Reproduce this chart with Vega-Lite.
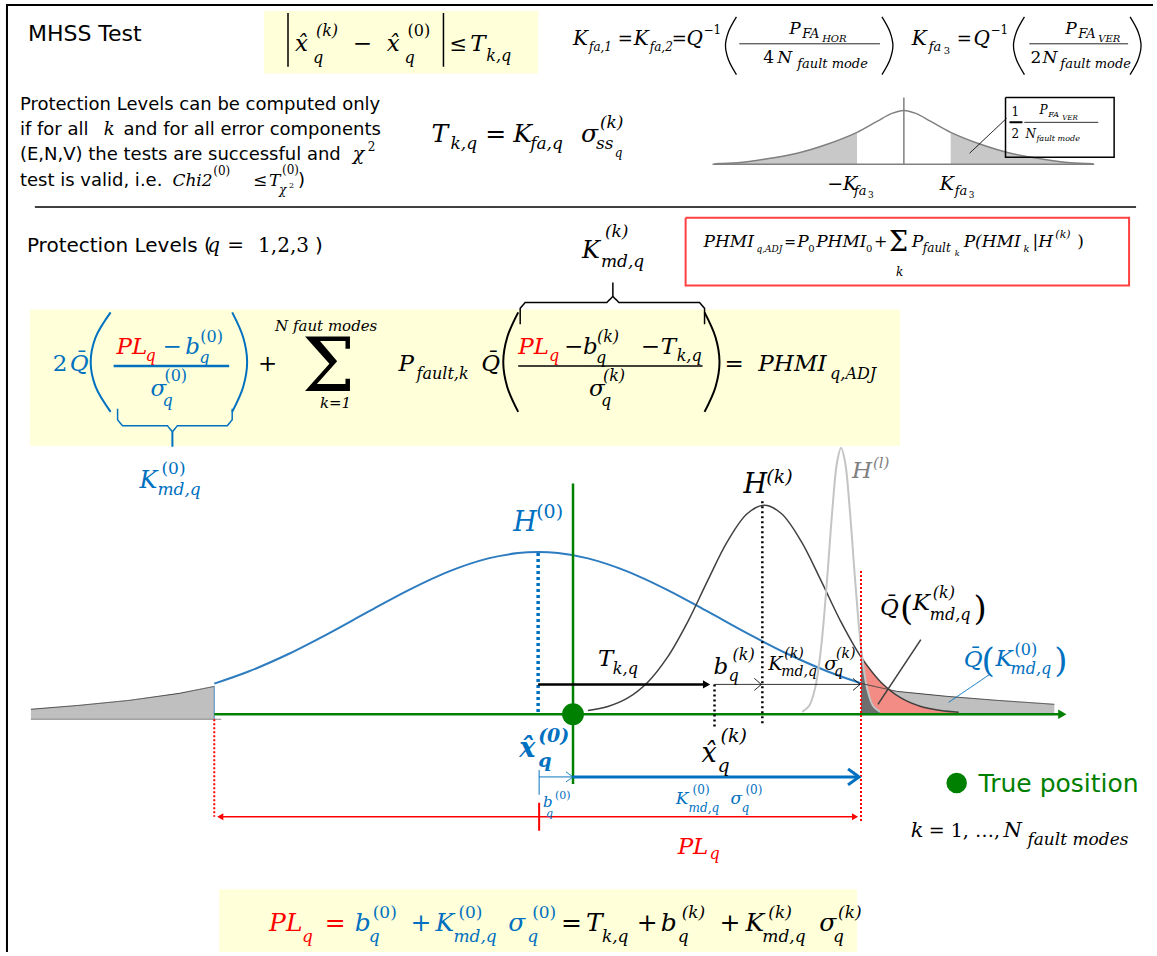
{
"$schema":"https://vega.github.io/schema/vega-lite/v6.json",
"width":1157,"height":956,
"autosize":{"type":"fit","contains":"padding"},
"padding":0,
"background":"white",
"config":{"view":{"stroke":null},"legend":{"disable":true}},
"datasets":{
"rc":[{"x":265,"x2":540,"y":10,"y2":73,"ink":"yl"},{"x":30,"x2":903,"y":310,"y2":447,"ink":"yl"},{"x":220,"x2":860,"y":893,"y2":956,"ink":"yl"}],
"ar":[
{"id":"a","x":31,"y":712,"yb":722,"ink":"ga"},{"id":"a","x":80,"y":708,"yb":722,"ink":"ga"},{"id":"a","x":130,"y":703,"yb":722,"ink":"ga"},{"id":"a","x":180,"y":696,"yb":722,"ink":"ga"},{"id":"a","x":215,"y":689,"yb":722,"ink":"ga"},
{"id":"b","x":864,"y":686,"yb":718,"ink":"ga"},{"id":"b","x":900,"y":694,"yb":718,"ink":"ga"},{"id":"b","x":950,"y":699,"yb":718,"ink":"ga"},{"id":"b","x":1000,"y":703,"yb":718,"ink":"ga"},{"id":"b","x":1058,"y":707,"yb":718,"ink":"ga"},
{"id":"c","x":864,"y":659.4,"yb":717,"ink":"ra"},{"id":"c","x":884,"y":684.8,"yb":717,"ink":"ra"},{"id":"c","x":904,"y":700.6,"yb":717,"ink":"ra"},{"id":"c","x":924,"y":709.2,"yb":717,"ink":"ra"},{"id":"c","x":944,"y":713.3,"yb":717,"ink":"ra"},{"id":"c","x":962,"y":715,"yb":717,"ink":"ra"},
{"id":"d","x":864,"y":649.4,"yb":717,"ink":"da"},{"id":"d","x":870,"y":690.5,"yb":717,"ink":"da"},{"id":"d","x":876,"y":708.4,"yb":717,"ink":"da"},{"id":"d","x":883,"y":714.6,"yb":717,"ink":"da"},
{"id":"e","x":717,"y":163.5,"yb":164,"ink":"ms"},{"id":"e","x":740,"y":162.5,"yb":164,"ink":"ms"},{"id":"e","x":767,"y":159,"yb":164,"ink":"ms"},{"id":"e","x":800,"y":153,"yb":164,"ink":"ms"},{"id":"e","x":830,"y":144,"yb":164,"ink":"ms"},{"id":"e","x":860,"y":132,"yb":164,"ink":"ms"},
{"id":"f","x":954,"y":132,"yb":164,"ink":"ms"},{"id":"f","x":984,"y":144,"yb":164,"ink":"ms"},{"id":"f","x":1014,"y":153,"yb":164,"ink":"ms"},{"id":"f","x":1047,"y":159,"yb":164,"ink":"ms"},{"id":"f","x":1074,"y":162.5,"yb":164,"ink":"ms"},{"id":"f","x":1097,"y":163.5,"yb":164,"ink":"ms"}
],
"crv":[
{"id":"h0","o":1,"x":215,"y":686.2,"ink":"cb","sw":2},{"id":"h0","o":2,"x":250,"y":673.8,"ink":"cb","sw":2},{"id":"h0","o":3,"x":290,"y":656.2,"ink":"cb","sw":2},{"id":"h0","o":4,"x":330,"y":635.7,"ink":"cb","sw":2},{"id":"h0","o":5,"x":370,"y":613.7,"ink":"cb","sw":2},{"id":"h0","o":6,"x":410,"y":592.2,"ink":"cb","sw":2},{"id":"h0","o":7,"x":450,"y":573.6,"ink":"cb","sw":2},{"id":"h0","o":8,"x":490,"y":560.3,"ink":"cb","sw":2},{"id":"h0","o":9,"x":520,"y":555,"ink":"cb","sw":2},{"id":"h0","o":10,"x":540,"y":554,"ink":"cb","sw":2},{"id":"h0","o":11,"x":560,"y":555,"ink":"cb","sw":2},{"id":"h0","o":12,"x":590,"y":560.3,"ink":"cb","sw":2},{"id":"h0","o":13,"x":630,"y":573.6,"ink":"cb","sw":2},{"id":"h0","o":14,"x":670,"y":592.2,"ink":"cb","sw":2},{"id":"h0","o":15,"x":710,"y":613.7,"ink":"cb","sw":2},{"id":"h0","o":16,"x":750,"y":635.7,"ink":"cb","sw":2},{"id":"h0","o":17,"x":790,"y":656.2,"ink":"cb","sw":2},{"id":"h0","o":18,"x":830,"y":673.8,"ink":"cb","sw":2},{"id":"h0","o":19,"x":864,"y":685.9,"ink":"cb","sw":2},
{"id":"hk","o":1,"x":590,"y":713.3,"ink":"dk","sw":1.5},{"id":"hk","o":2,"x":610,"y":709.2,"ink":"dk","sw":1.5},{"id":"hk","o":3,"x":630,"y":700.6,"ink":"dk","sw":1.5},{"id":"hk","o":4,"x":650,"y":684.8,"ink":"dk","sw":1.5},{"id":"hk","o":5,"x":670,"y":659.4,"ink":"dk","sw":1.5},{"id":"hk","o":6,"x":690,"y":624.3,"ink":"dk","sw":1.5},{"id":"hk","o":7,"x":710,"y":582.9,"ink":"dk","sw":1.5},{"id":"hk","o":8,"x":730,"y":543.2,"ink":"dk","sw":1.5},{"id":"hk","o":9,"x":750,"y":515.2,"ink":"dk","sw":1.5},{"id":"hk","o":10,"x":767,"y":507,"ink":"dk","sw":1.5},{"id":"hk","o":11,"x":784,"y":515.2,"ink":"dk","sw":1.5},{"id":"hk","o":12,"x":804,"y":543.2,"ink":"dk","sw":1.5},{"id":"hk","o":13,"x":824,"y":582.9,"ink":"dk","sw":1.5},{"id":"hk","o":14,"x":844,"y":624.3,"ink":"dk","sw":1.5},{"id":"hk","o":15,"x":864,"y":659.4,"ink":"dk","sw":1.5},{"id":"hk","o":16,"x":884,"y":684.8,"ink":"dk","sw":1.5},{"id":"hk","o":17,"x":904,"y":700.6,"ink":"dk","sw":1.5},{"id":"hk","o":18,"x":924,"y":709.2,"ink":"dk","sw":1.5},{"id":"hk","o":19,"x":944,"y":713.3,"ink":"dk","sw":1.5},{"id":"hk","o":20,"x":962,"y":715,"ink":"dk","sw":1.5},
{"id":"hl","o":1,"x":805,"y":714.6,"ink":"lg","sw":2},{"id":"hl","o":2,"x":812,"y":708.4,"ink":"lg","sw":2},{"id":"hl","o":3,"x":818,"y":690.5,"ink":"lg","sw":2},{"id":"hl","o":4,"x":824,"y":649.4,"ink":"lg","sw":2},{"id":"hl","o":5,"x":830,"y":580.9,"ink":"lg","sw":2},{"id":"hl","o":6,"x":835,"y":514.5,"ink":"lg","sw":2},{"id":"hl","o":7,"x":840,"y":463.4,"ink":"lg","sw":2},{"id":"hl","o":8,"x":844,"y":449,"ink":"lg","sw":2},{"id":"hl","o":9,"x":848,"y":463.4,"ink":"lg","sw":2},{"id":"hl","o":10,"x":853,"y":514.5,"ink":"lg","sw":2},{"id":"hl","o":11,"x":858,"y":580.9,"ink":"lg","sw":2},{"id":"hl","o":12,"x":864,"y":649.4,"ink":"lg","sw":2},{"id":"hl","o":13,"x":870,"y":690.5,"ink":"lg","sw":2},{"id":"hl","o":14,"x":876,"y":708.4,"ink":"lg","sw":2},{"id":"hl","o":15,"x":883,"y":714.6,"ink":"lg","sw":2},
{"id":"mg","o":1,"x":717,"y":163.5,"ink":"gr","sw":1.5},{"id":"mg","o":2,"x":740,"y":162.5,"ink":"gr","sw":1.5},{"id":"mg","o":3,"x":767,"y":159,"ink":"gr","sw":1.5},{"id":"mg","o":4,"x":800,"y":153,"ink":"gr","sw":1.5},{"id":"mg","o":5,"x":830,"y":144,"ink":"gr","sw":1.5},{"id":"mg","o":6,"x":860,"y":132,"ink":"gr","sw":1.5},{"id":"mg","o":7,"x":880,"y":121,"ink":"gr","sw":1.5},{"id":"mg","o":8,"x":895,"y":113,"ink":"gr","sw":1.5},{"id":"mg","o":9,"x":907,"y":110,"ink":"gr","sw":1.5},{"id":"mg","o":10,"x":919,"y":113,"ink":"gr","sw":1.5},{"id":"mg","o":11,"x":934,"y":121,"ink":"gr","sw":1.5},{"id":"mg","o":12,"x":954,"y":132,"ink":"gr","sw":1.5},{"id":"mg","o":13,"x":984,"y":144,"ink":"gr","sw":1.5},{"id":"mg","o":14,"x":1014,"y":153,"ink":"gr","sw":1.5},{"id":"mg","o":15,"x":1047,"y":159,"ink":"gr","sw":1.5},{"id":"mg","o":16,"x":1074,"y":162.5,"ink":"gr","sw":1.5},{"id":"mg","o":17,"x":1097,"y":163.5,"ink":"gr","sw":1.5},
{"id":"p1L","o":1,"x":739,"y":16,"ink":"k","sw":1.3},{"id":"p1L","o":2,"x":731,"y":31,"ink":"k","sw":1.3},{"id":"p1L","o":3,"x":728,"y":45,"ink":"k","sw":1.3},{"id":"p1L","o":4,"x":731,"y":59,"ink":"k","sw":1.3},{"id":"p1L","o":5,"x":739,"y":74,"ink":"k","sw":1.3},
{"id":"p1R","o":1,"x":885,"y":16,"ink":"k","sw":1.3},{"id":"p1R","o":2,"x":893,"y":31,"ink":"k","sw":1.3},{"id":"p1R","o":3,"x":896,"y":45,"ink":"k","sw":1.3},{"id":"p1R","o":4,"x":893,"y":59,"ink":"k","sw":1.3},{"id":"p1R","o":5,"x":885,"y":74,"ink":"k","sw":1.3},
{"id":"p2L","o":1,"x":1028,"y":16,"ink":"k","sw":1.3},{"id":"p2L","o":2,"x":1020,"y":31,"ink":"k","sw":1.3},{"id":"p2L","o":3,"x":1017,"y":45,"ink":"k","sw":1.3},{"id":"p2L","o":4,"x":1020,"y":59,"ink":"k","sw":1.3},{"id":"p2L","o":5,"x":1028,"y":74,"ink":"k","sw":1.3},
{"id":"p2R","o":1,"x":1134,"y":16,"ink":"k","sw":1.3},{"id":"p2R","o":2,"x":1142,"y":31,"ink":"k","sw":1.3},{"id":"p2R","o":3,"x":1145,"y":45,"ink":"k","sw":1.3},{"id":"p2R","o":4,"x":1142,"y":59,"ink":"k","sw":1.3},{"id":"p2R","o":5,"x":1134,"y":74,"ink":"k","sw":1.3},
{"id":"pbL","o":1,"x":111,"y":313,"ink":"b","sw":2},{"id":"pbL","o":2,"x":96,"y":338,"ink":"b","sw":2},{"id":"pbL","o":3,"x":91,"y":363,"ink":"b","sw":2},{"id":"pbL","o":4,"x":96,"y":388,"ink":"b","sw":2},{"id":"pbL","o":5,"x":111,"y":413,"ink":"b","sw":2},
{"id":"pbR","o":1,"x":233,"y":313,"ink":"b","sw":2},{"id":"pbR","o":2,"x":244,"y":338,"ink":"b","sw":2},{"id":"pbR","o":3,"x":248,"y":363,"ink":"b","sw":2},{"id":"pbR","o":4,"x":244,"y":388,"ink":"b","sw":2},{"id":"pbR","o":5,"x":233,"y":413,"ink":"b","sw":2},
{"id":"pkL","o":1,"x":520,"y":313,"ink":"k","sw":2},{"id":"pkL","o":2,"x":509,"y":338,"ink":"k","sw":2},{"id":"pkL","o":3,"x":505,"y":363,"ink":"k","sw":2},{"id":"pkL","o":4,"x":509,"y":388,"ink":"k","sw":2},{"id":"pkL","o":5,"x":520,"y":413,"ink":"k","sw":2},
{"id":"pkR","o":1,"x":707,"y":313,"ink":"k","sw":2},{"id":"pkR","o":2,"x":718,"y":338,"ink":"k","sw":2},{"id":"pkR","o":3,"x":722,"y":363,"ink":"k","sw":2},{"id":"pkR","o":4,"x":718,"y":388,"ink":"k","sw":2},{"id":"pkR","o":5,"x":707,"y":413,"ink":"k","sw":2}
],
"seg":[
{"id":"frame","o":1,"x":7,"y":956,"ink":"k","sw":2,"d":"s"},{"id":"frame","o":2,"x":7,"y":4,"ink":"k","sw":2,"d":"s"},{"id":"frame","o":3,"x":1157,"y":4,"ink":"k","sw":2,"d":"s"},
{"id":"sep","o":1,"x":35,"y":207,"ink":"k","sw":1.5,"d":"s"},{"id":"sep","o":2,"x":1140,"y":207,"ink":"k","sw":1.5,"d":"s"},
{"id":"bar1","o":1,"x":289,"y":12,"ink":"k","sw":1.5,"d":"s"},{"id":"bar1","o":2,"x":289,"y":66,"ink":"k","sw":1.5,"d":"s"},
{"id":"bar2","o":1,"x":445,"y":12,"ink":"k","sw":1.5,"d":"s"},{"id":"bar2","o":2,"x":445,"y":66,"ink":"k","sw":1.5,"d":"s"},
{"id":"fr1","o":1,"x":742,"y":43,"ink":"k","sw":1,"d":"s"},{"id":"fr1","o":2,"x":883,"y":43,"ink":"k","sw":1,"d":"s"},
{"id":"fr2","o":1,"x":1033,"y":43,"ink":"k","sw":1,"d":"s"},{"id":"fr2","o":2,"x":1132,"y":43,"ink":"k","sw":1,"d":"s"},
{"id":"max","o":1,"x":715,"y":164,"ink":"gr","sw":1.5,"d":"s"},{"id":"max","o":2,"x":1098,"y":164,"ink":"gr","sw":1.5,"d":"s"},
{"id":"mcv","o":1,"x":907,"y":97,"ink":"gr","sw":1.5,"d":"s"},{"id":"mcv","o":2,"x":907,"y":164,"ink":"gr","sw":1.5,"d":"s"},
{"id":"mld","o":1,"x":973,"y":153,"ink":"k","sw":1,"d":"s"},{"id":"mld","o":2,"x":1010,"y":118,"ink":"k","sw":1,"d":"s"},
{"id":"mbox","o":1,"x":1009,"y":97,"ink":"k","sw":1.5,"d":"s"},{"id":"mbox","o":2,"x":1118,"y":97,"ink":"k","sw":1.5,"d":"s"},{"id":"mbox","o":3,"x":1118,"y":157,"ink":"k","sw":1.5,"d":"s"},{"id":"mbox","o":4,"x":1009,"y":157,"ink":"k","sw":1.5,"d":"s"},{"id":"mbox","o":5,"x":1009,"y":97,"ink":"k","sw":1.5,"d":"s"},
{"id":"mh","o":1,"x":1013,"y":122,"ink":"k","sw":2,"d":"s"},{"id":"mh","o":2,"x":1026,"y":122,"ink":"k","sw":2,"d":"s"},
{"id":"mf","o":1,"x":1028,"y":122,"ink":"k","sw":1,"d":"s"},{"id":"mf","o":2,"x":1102,"y":122,"ink":"k","sw":1,"d":"s"},
{"id":"rbox","o":1,"x":688,"y":218,"ink":"rb","sw":2,"d":"s"},{"id":"rbox","o":2,"x":1133,"y":218,"ink":"rb","sw":2,"d":"s"},{"id":"rbox","o":3,"x":1133,"y":286,"ink":"rb","sw":2,"d":"s"},{"id":"rbox","o":4,"x":688,"y":286,"ink":"rb","sw":2,"d":"s"},{"id":"rbox","o":5,"x":688,"y":218,"ink":"rb","sw":2,"d":"s"},
{"id":"kbr","o":1,"x":522,"y":325,"ink":"k","sw":1.5,"d":"s"},{"id":"kbr","o":2,"x":522,"y":309,"ink":"k","sw":1.5,"d":"s"},{"id":"kbr","o":3,"x":527,"y":303,"ink":"k","sw":1.5,"d":"s"},{"id":"kbr","o":4,"x":609,"y":303,"ink":"k","sw":1.5,"d":"s"},{"id":"kbr","o":5,"x":615,"y":297,"ink":"k","sw":1.5,"d":"s"},{"id":"kbr","o":6,"x":621,"y":303,"ink":"k","sw":1.5,"d":"s"},{"id":"kbr","o":7,"x":702,"y":303,"ink":"k","sw":1.5,"d":"s"},{"id":"kbr","o":8,"x":707,"y":309,"ink":"k","sw":1.5,"d":"s"},{"id":"kbr","o":9,"x":707,"y":325,"ink":"k","sw":1.5,"d":"s"},
{"id":"kbt","o":1,"x":615,"y":283,"ink":"k","sw":1.5,"d":"s"},{"id":"kbt","o":2,"x":615,"y":297,"ink":"k","sw":1.5,"d":"s"},
{"id":"bfl","o":1,"x":114,"y":367,"ink":"b","sw":2.5,"d":"s"},{"id":"bfl","o":2,"x":230,"y":367,"ink":"b","sw":2.5,"d":"s"},
{"id":"kfl","o":1,"x":520,"y":367,"ink":"k","sw":1.5,"d":"s"},{"id":"kfl","o":2,"x":705,"y":367,"ink":"k","sw":1.5,"d":"s"},
{"id":"bbr","o":1,"x":118,"y":410,"ink":"b","sw":1.5,"d":"s"},{"id":"bbr","o":2,"x":118,"y":421,"ink":"b","sw":1.5,"d":"s"},{"id":"bbr","o":3,"x":123,"y":427,"ink":"b","sw":1.5,"d":"s"},{"id":"bbr","o":4,"x":168,"y":427,"ink":"b","sw":1.5,"d":"s"},{"id":"bbr","o":5,"x":173,"y":433,"ink":"b","sw":1.5,"d":"s"},{"id":"bbr","o":6,"x":178,"y":427,"ink":"b","sw":1.5,"d":"s"},{"id":"bbr","o":7,"x":228,"y":427,"ink":"b","sw":1.5,"d":"s"},{"id":"bbr","o":8,"x":233,"y":421,"ink":"b","sw":1.5,"d":"s"},{"id":"bbr","o":9,"x":233,"y":410,"ink":"b","sw":1.5,"d":"s"},
{"id":"bbt","o":1,"x":173,"y":433,"ink":"b","sw":2,"d":"s"},{"id":"bbt","o":2,"x":173,"y":448,"ink":"b","sw":2,"d":"s"},
{"id":"lgt","o":1,"x":31,"y":712,"ink":"dk","sw":1,"d":"s"},{"id":"lgt","o":2,"x":80,"y":708,"ink":"dk","sw":1,"d":"s"},{"id":"lgt","o":3,"x":130,"y":703,"ink":"dk","sw":1,"d":"s"},{"id":"lgt","o":4,"x":180,"y":696,"ink":"dk","sw":1,"d":"s"},{"id":"lgt","o":5,"x":215,"y":689,"ink":"dk","sw":1,"d":"s"},
{"id":"lgb","o":1,"x":31,"y":722,"ink":"gr","sw":1,"d":"s"},{"id":"lgb","o":2,"x":222,"y":722,"ink":"gr","sw":1,"d":"s"},
{"id":"ltk","o":1,"x":215,"y":689,"ink":"cb","sw":1,"d":"s"},{"id":"ltk","o":2,"x":215,"y":722,"ink":"cb","sw":1,"d":"s"},
{"id":"rgt","o":1,"x":864,"y":686,"ink":"dk","sw":1,"d":"s"},{"id":"rgt","o":2,"x":900,"y":694,"ink":"dk","sw":1,"d":"s"},{"id":"rgt","o":3,"x":950,"y":699,"ink":"dk","sw":1,"d":"s"},{"id":"rgt","o":4,"x":1000,"y":703,"ink":"dk","sw":1,"d":"s"},{"id":"rgt","o":5,"x":1058,"y":707,"ink":"dk","sw":1,"d":"s"},
{"id":"gax","o":1,"x":215,"y":717,"ink":"g","sw":2.5,"d":"s"},{"id":"gax","o":2,"x":1063,"y":717,"ink":"g","sw":2.5,"d":"s"},
{"id":"gvt","o":1,"x":575,"y":485,"ink":"g","sw":2.5,"d":"s"},{"id":"gvt","o":2,"x":575,"y":787,"ink":"g","sw":2.5,"d":"s"},
{"id":"bdot","o":1,"x":540,"y":555,"ink":"b","sw":3.5,"d":"d3"},{"id":"bdot","o":2,"x":540,"y":717,"ink":"b","sw":3.5,"d":"d3"},
{"id":"kd1","o":1,"x":765,"y":503,"ink":"k","sw":2.5,"d":"d23"},{"id":"kd1","o":2,"x":765,"y":727,"ink":"k","sw":2.5,"d":"d23"},
{"id":"kd2","o":1,"x":717,"y":687,"ink":"k","sw":2.5,"d":"d23"},{"id":"kd2","o":2,"x":717,"y":732,"ink":"k","sw":2.5,"d":"d23"},
{"id":"rd1","o":1,"x":864,"y":573,"ink":"r","sw":2,"d":"d2"},{"id":"rd1","o":2,"x":864,"y":826,"ink":"r","sw":2,"d":"d2"},
{"id":"rd2","o":1,"x":215,"y":722,"ink":"r","sw":2,"d":"d2"},{"id":"rd2","o":2,"x":215,"y":820,"ink":"r","sw":2,"d":"d2"},
{"id":"ka","o":1,"x":540,"y":687,"ink":"k","sw":2.5,"d":"s"},{"id":"ka","o":2,"x":706,"y":687,"ink":"k","sw":2.5,"d":"s"},
{"id":"ta1","o":1,"x":717,"y":687,"ink":"k","sw":1,"d":"s"},{"id":"ta1","o":2,"x":764,"y":687,"ink":"k","sw":1,"d":"s"},
{"id":"tc1","o":1,"x":757,"y":681,"ink":"k","sw":1,"d":"s"},{"id":"tc1","o":2,"x":764,"y":687,"ink":"k","sw":1,"d":"s"},{"id":"tc1","o":3,"x":757,"y":693,"ink":"k","sw":1,"d":"s"},
{"id":"ta2","o":1,"x":764,"y":687,"ink":"k","sw":1,"d":"s"},{"id":"ta2","o":2,"x":863,"y":687,"ink":"k","sw":1,"d":"s"},
{"id":"tc2","o":1,"x":856,"y":681,"ink":"k","sw":1,"d":"s"},{"id":"tc2","o":2,"x":863,"y":687,"ink":"k","sw":1,"d":"s"},{"id":"tc2","o":3,"x":856,"y":693,"ink":"k","sw":1,"d":"s"},
{"id":"ba1","o":1,"x":541,"y":780,"ink":"b","sw":1,"d":"s"},{"id":"ba1","o":2,"x":575,"y":780,"ink":"b","sw":1,"d":"s"},
{"id":"bc1","o":1,"x":568,"y":775,"ink":"b","sw":1,"d":"s"},{"id":"bc1","o":2,"x":575,"y":780,"ink":"b","sw":1,"d":"s"},{"id":"bc1","o":3,"x":568,"y":785,"ink":"b","sw":1,"d":"s"},
{"id":"bt1","o":1,"x":541,"y":773,"ink":"b","sw":1,"d":"s"},{"id":"bt1","o":2,"x":541,"y":798,"ink":"b","sw":1,"d":"s"},
{"id":"ba2","o":1,"x":575,"y":780,"ink":"b","sw":3,"d":"s"},{"id":"ba2","o":2,"x":861,"y":780,"ink":"b","sw":3,"d":"s"},
{"id":"bc2","o":1,"x":851,"y":772,"ink":"b","sw":3,"d":"s"},{"id":"bc2","o":2,"x":862,"y":780,"ink":"b","sw":3,"d":"s"},{"id":"bc2","o":3,"x":851,"y":788,"ink":"b","sw":3,"d":"s"},
{"id":"pl","o":1,"x":222,"y":820,"ink":"r","sw":1.5,"d":"s"},{"id":"pl","o":2,"x":857,"y":820,"ink":"r","sw":1.5,"d":"s"},
{"id":"plt","o":1,"x":541,"y":806,"ink":"r","sw":2,"d":"s"},{"id":"plt","o":2,"x":541,"y":834,"ink":"r","sw":2,"d":"s"},
{"id":"lk","o":1,"x":924,"y":642,"ink":"dk","sw":1.5,"d":"s"},{"id":"lk","o":2,"x":881,"y":707,"ink":"dk","sw":1.5,"d":"s"},
{"id":"lb","o":1,"x":993,"y":677,"ink":"b","sw":1,"d":"s"},{"id":"lb","o":2,"x":952,"y":705,"ink":"b","sw":1,"d":"s"}
],
"pt":[
{"x":575,"y":717,"shp":"c","ps":480,"ink":"g"},{"x":960,"y":786,"shp":"c","ps":420,"ink":"g"},{"x":1066,"y":717,"shp":"tr","ps":90,"ink":"g"},{"x":709,"y":687,"shp":"tr","ps":70,"ink":"k"},{"x":221,"y":820,"shp":"tl","ps":50,"ink":"r"},{"x":858,"y":820,"shp":"tr","ps":50,"ink":"r"}
],
"txt":[
{"x":28,"y":40,"t":"MHSS Test","fs":22,"ink":"k","f":"s"},
{"x":20,"y":110,"t":"Protection Levels can be computed only","fs":18,"ink":"k","f":"s"},
{"x":20,"y":135,"t":"if for all","fs":18,"ink":"k","f":"s"},
{"x":124,"y":135,"t":"and for all error components","fs":18,"ink":"k","f":"s"},
{"x":20,"y":160,"t":"(E,N,V) the tests are successful and","fs":18,"ink":"k","f":"s"},
{"x":20,"y":186,"t":"test is valid, i.e.","fs":18,"ink":"k","f":"s"},
{"x":299,"y":186,"t":")","fs":18,"ink":"k","f":"s"},
{"x":27,"y":252,"t":"Protection Levels (","fs":20,"ink":"k","f":"s"},
{"x":316,"y":252,"t":")","fs":20,"ink":"k","f":"s"},
{"x":982,"y":795,"t":"True position","fs":25,"ink":"g","f":"s"},

{"x":296,"y":50,"t":"x\u0302","fs":23,"ink":"k","f":"i"},
{"x":317,"y":35,"t":"(k)","fs":16,"ink":"k","f":"i"},
{"x":314,"y":62,"t":"q","fs":16,"ink":"k","f":"i"},
{"x":354,"y":50,"t":"\u2212","fs":23,"ink":"k","f":"u"},
{"x":388,"y":50,"t":"x\u0302","fs":23,"ink":"k","f":"i"},
{"x":409,"y":35,"t":"(0)","fs":16,"ink":"k","f":"u"},
{"x":406,"y":62,"t":"q","fs":16,"ink":"k","f":"i"},
{"x":451,"y":50,"t":"\u2264","fs":21,"ink":"k","f":"u"},
{"x":472,"y":50,"t":"T","fs":23,"ink":"k","f":"i"},
{"x":488,"y":60,"t":"k,q","fs":16,"ink":"k","f":"i"},

{"x":575,"y":44,"t":"K","fs":20,"ink":"k","f":"i"},
{"x":591,"y":50,"t":"fa,1","fs":12,"ink":"k","f":"i"},
{"x":620,"y":44,"t":"=","fs":18,"ink":"k","f":"u"},
{"x":636,"y":44,"t":"K","fs":20,"ink":"k","f":"i"},
{"x":652,"y":50,"t":"fa,2","fs":12,"ink":"k","f":"i"},
{"x":674,"y":44,"t":"=","fs":18,"ink":"k","f":"u"},
{"x":689,"y":44,"t":"Q","fs":20,"ink":"k","f":"i"},
{"x":706,"y":33,"t":"\u22121","fs":12,"ink":"k","f":"u"},
{"x":792,"y":33,"t":"P","fs":17,"ink":"k","f":"i"},
{"x":805,"y":37,"t":"FA","fs":13,"ink":"k","f":"i"},
{"x":825,"y":41,"t":"HOR","fs":10,"ink":"k","f":"i"},
{"x":766,"y":62,"t":"4","fs":17,"ink":"k","f":"u"},
{"x":780,"y":62,"t":"N","fs":17,"ink":"k","f":"i"},
{"x":800,"y":67,"t":"fault mode","fs":13,"ink":"k","f":"i"},
{"x":915,"y":44,"t":"K","fs":20,"ink":"k","f":"i"},
{"x":932,"y":50,"t":"fa","fs":13,"ink":"k","f":"i"},
{"x":947,"y":53,"t":"3","fs":10,"ink":"k","f":"u"},
{"x":960,"y":44,"t":"=","fs":18,"ink":"k","f":"u"},
{"x":977,"y":44,"t":"Q","fs":20,"ink":"k","f":"i"},
{"x":994,"y":33,"t":"\u22121","fs":12,"ink":"k","f":"u"},
{"x":1069,"y":33,"t":"P","fs":17,"ink":"k","f":"i"},
{"x":1082,"y":37,"t":"FA","fs":13,"ink":"k","f":"i"},
{"x":1102,"y":41,"t":"VER","fs":10,"ink":"k","f":"i"},
{"x":1034,"y":62,"t":"2","fs":17,"ink":"k","f":"u"},
{"x":1046,"y":62,"t":"N","fs":17,"ink":"k","f":"i"},
{"x":1064,"y":67,"t":"fault mode","fs":13,"ink":"k","f":"i"},

{"x":104,"y":135,"t":"k","fs":18,"ink":"k","f":"i"},
{"x":354,"y":160,"t":"\u03c7","fs":19,"ink":"k","f":"i"},
{"x":369,"y":151,"t":"2","fs":12,"ink":"k","f":"u"},
{"x":173,"y":186,"t":"Chi2","fs":17,"ink":"k","f":"i"},
{"x":214,"y":175,"t":"(0)","fs":12,"ink":"k","f":"u"},
{"x":254,"y":186,"t":"\u2264","fs":17,"ink":"k","f":"u"},
{"x":270,"y":186,"t":"T","fs":17,"ink":"k","f":"i"},
{"x":283,"y":174,"t":"(0)","fs":12,"ink":"k","f":"u"},
{"x":280,"y":194,"t":"\u03c7","fs":12,"ink":"k","f":"i"},
{"x":290,"y":188,"t":"2","fs":8,"ink":"k","f":"u"},

{"x":433,"y":142,"t":"T","fs":25,"ink":"k","f":"i"},
{"x":452,"y":149,"t":"k,q","fs":17,"ink":"k","f":"i"},
{"x":487,"y":142,"t":"=","fs":25,"ink":"k","f":"u"},
{"x":515,"y":142,"t":"K","fs":25,"ink":"k","f":"i"},
{"x":532,"y":149,"t":"fa,q","fs":17,"ink":"k","f":"i"},
{"x":583,"y":142,"t":"\u03c3","fs":25,"ink":"k","f":"i"},
{"x":602,"y":128,"t":"(k)","fs":17,"ink":"k","f":"i"},
{"x":598,"y":149,"t":"ss","fs":17,"ink":"k","f":"i"},
{"x":617,"y":157,"t":"q","fs":12,"ink":"k","f":"i"},

{"x":830,"y":190,"t":"\u2212K","fs":19,"ink":"k","f":"i"},
{"x":857,"y":195,"t":"fa","fs":13,"ink":"k","f":"i"},
{"x":871,"y":198,"t":"3","fs":9,"ink":"k","f":"u"},
{"x":943,"y":190,"t":"K","fs":19,"ink":"k","f":"i"},
{"x":958,"y":195,"t":"fa","fs":13,"ink":"k","f":"i"},
{"x":972,"y":198,"t":"3","fs":9,"ink":"k","f":"u"},
{"x":1015,"y":116,"t":"1","fs":12,"ink":"k","f":"u"},
{"x":1015,"y":138,"t":"2","fs":12,"ink":"k","f":"u"},
{"x":1043,"y":114,"t":"P","fs":12,"ink":"k","f":"i"},
{"x":1052,"y":117,"t":"FA","fs":8,"ink":"k","f":"i"},
{"x":1066,"y":120,"t":"VER","fs":7,"ink":"k","f":"i"},
{"x":1029,"y":138,"t":"N","fs":12,"ink":"k","f":"i"},
{"x":1040,"y":141,"t":"fault mode","fs":8,"ink":"k","f":"i"},

{"x":208,"y":252,"t":"q","fs":20,"ink":"k","f":"i"},
{"x":228,"y":252,"t":"=","fs":20,"ink":"k","f":"u"},
{"x":259,"y":252,"t":"1,2,3","fs":20,"ink":"k","f":"u"},
{"x":584,"y":258,"t":"K","fs":24,"ink":"k","f":"i"},
{"x":607,"y":237,"t":"(k)","fs":17,"ink":"k","f":"i"},
{"x":603,"y":267,"t":"md,q","fs":17,"ink":"k","f":"i"},

{"x":706,"y":247,"t":"PHMI","fs":17,"ink":"k","f":"i"},
{"x":759,"y":252,"t":"q,ADJ","fs":9,"ink":"k","f":"i"},
{"x":787,"y":247,"t":"=","fs":14,"ink":"k","f":"u"},
{"x":800,"y":247,"t":"P","fs":17,"ink":"k","f":"i"},
{"x":811,"y":252,"t":"0","fs":10,"ink":"k","f":"u"},
{"x":819,"y":247,"t":"PHMI","fs":17,"ink":"k","f":"i"},
{"x":869,"y":252,"t":"0","fs":10,"ink":"k","f":"u"},
{"x":877,"y":247,"t":"+","fs":16,"ink":"k","f":"u"},
{"x":892,"y":251,"t":"\u03a3","fs":27,"ink":"k","f":"u"},
{"x":899,"y":276,"t":"k","fs":12,"ink":"k","f":"i"},
{"x":915,"y":247,"t":"P","fs":17,"ink":"k","f":"i"},
{"x":926,"y":252,"t":"fault","fs":12,"ink":"k","f":"i"},
{"x":958,"y":256,"t":"k","fs":8,"ink":"k","f":"i"},
{"x":967,"y":247,"t":"P(HMI","fs":17,"ink":"k","f":"i"},
{"x":1027,"y":252,"t":"k","fs":10,"ink":"k","f":"i"},
{"x":1036,"y":247,"t":"|H","fs":17,"ink":"k","f":"i"},
{"x":1059,"y":238,"t":"(k)","fs":11,"ink":"k","f":"i"},
{"x":1081,"y":247,"t":")","fs":17,"ink":"k","f":"u"},

{"x":53,"y":372,"t":"2","fs":23,"ink":"b","f":"u"},
{"x":70,"y":372,"t":"Q\u0304","fs":23,"ink":"b","f":"i"},
{"x":117,"y":355,"t":"PL","fs":23,"ink":"r","f":"i"},
{"x":146,"y":362,"t":"q","fs":16,"ink":"r","f":"i"},
{"x":163,"y":355,"t":"\u2212","fs":23,"ink":"b","f":"u"},
{"x":186,"y":355,"t":"b","fs":23,"ink":"b","f":"i"},
{"x":201,"y":343,"t":"(0)","fs":16,"ink":"b","f":"u"},
{"x":200,"y":364,"t":"q","fs":16,"ink":"b","f":"i"},
{"x":151,"y":397,"t":"\u03c3","fs":23,"ink":"b","f":"i"},
{"x":165,"y":382,"t":"(0)","fs":16,"ink":"b","f":"u"},
{"x":163,"y":407,"t":"q","fs":16,"ink":"b","f":"i"},
{"x":259,"y":372,"t":"+","fs":23,"ink":"k","f":"u"},
{"x":276,"y":332,"t":"N faut modes","fs":15,"ink":"k","f":"i"},
{"x":303,"y":392,"t":"\u03a3","fs":75,"ink":"k","f":"u"},
{"x":321,"y":409,"t":"k=1","fs":15,"ink":"k","f":"i"},
{"x":400,"y":372,"t":"P","fs":23,"ink":"k","f":"i"},
{"x":418,"y":380,"t":"fault,k","fs":16,"ink":"k","f":"i"},
{"x":483,"y":372,"t":"Q\u0304","fs":23,"ink":"k","f":"i"},
{"x":520,"y":355,"t":"PL","fs":23,"ink":"r","f":"i"},
{"x":551,"y":362,"t":"q","fs":16,"ink":"r","f":"i"},
{"x":566,"y":355,"t":"\u2212","fs":23,"ink":"k","f":"u"},
{"x":585,"y":355,"t":"b","fs":23,"ink":"k","f":"i"},
{"x":599,"y":343,"t":"(k)","fs":16,"ink":"k","f":"i"},
{"x":598,"y":364,"t":"q","fs":16,"ink":"k","f":"i"},
{"x":643,"y":355,"t":"\u2212","fs":23,"ink":"k","f":"u"},
{"x":663,"y":355,"t":"T","fs":23,"ink":"k","f":"i"},
{"x":679,"y":362,"t":"k,q","fs":16,"ink":"k","f":"i"},
{"x":591,"y":397,"t":"\u03c3","fs":23,"ink":"k","f":"i"},
{"x":605,"y":382,"t":"(k)","fs":16,"ink":"k","f":"i"},
{"x":603,"y":407,"t":"q","fs":16,"ink":"k","f":"i"},
{"x":727,"y":372,"t":"=","fs":23,"ink":"k","f":"u"},
{"x":761,"y":372,"t":"PHMI","fs":23,"ink":"k","f":"i"},
{"x":833,"y":380,"t":"q,ADJ","fs":16,"ink":"k","f":"i"},
{"x":140,"y":490,"t":"K","fs":24,"ink":"b","f":"i"},
{"x":162,"y":475,"t":"(0)","fs":17,"ink":"b","f":"u"},
{"x":158,"y":497,"t":"md,q","fs":17,"ink":"b","f":"i"},

{"x":515,"y":533,"t":"H","fs":27,"ink":"b","f":"i"},
{"x":538,"y":520,"t":"(0)","fs":19,"ink":"b","f":"u"},
{"x":746,"y":495,"t":"H","fs":27,"ink":"k","f":"i"},
{"x":769,"y":485,"t":"(k)","fs":19,"ink":"k","f":"i"},
{"x":855,"y":480,"t":"H","fs":23,"ink":"gr","f":"i"},
{"x":876,"y":469,"t":"(l)","fs":15,"ink":"gr","f":"i"},
{"x":600,"y":668,"t":"T","fs":23,"ink":"k","f":"i"},
{"x":615,"y":677,"t":"k,q","fs":16,"ink":"k","f":"i"},
{"x":716,"y":677,"t":"b","fs":23,"ink":"k","f":"i"},
{"x":735,"y":662,"t":"(k)","fs":16,"ink":"k","f":"i"},
{"x":731,"y":684,"t":"q","fs":16,"ink":"k","f":"i"},
{"x":771,"y":673,"t":"K","fs":19,"ink":"k","f":"i"},
{"x":787,"y":660,"t":"(k)","fs":14,"ink":"k","f":"i"},
{"x":784,"y":679,"t":"md,q","fs":14,"ink":"k","f":"i"},
{"x":827,"y":673,"t":"\u03c3","fs":19,"ink":"k","f":"i"},
{"x":839,"y":660,"t":"(k)","fs":14,"ink":"k","f":"i"},
{"x":837,"y":679,"t":"q","fs":14,"ink":"k","f":"i"},
{"x":883,"y":617,"t":"Q\u0304","fs":23,"ink":"k","f":"i"},
{"x":903,"y":622,"t":"(","fs":34,"ink":"k","f":"u"},
{"x":916,"y":612,"t":"K","fs":23,"ink":"k","f":"i"},
{"x":936,"y":600,"t":"(k)","fs":16,"ink":"k","f":"i"},
{"x":933,"y":622,"t":"md,q","fs":16,"ink":"k","f":"i"},
{"x":977,"y":622,"t":")","fs":34,"ink":"k","f":"u"},
{"x":967,"y":670,"t":"Q\u0304","fs":23,"ink":"b","f":"i"},
{"x":985,"y":675,"t":"(","fs":34,"ink":"b","f":"u"},
{"x":999,"y":668,"t":"K","fs":23,"ink":"b","f":"i"},
{"x":1018,"y":657,"t":"(0)","fs":16,"ink":"b","f":"u"},
{"x":1014,"y":677,"t":"md,q","fs":16,"ink":"b","f":"i"},
{"x":1058,"y":675,"t":")","fs":34,"ink":"b","f":"u"},
{"x":704,"y":765,"t":"x\u0302","fs":27,"ink":"k","f":"i"},
{"x":723,"y":745,"t":"(k)","fs":19,"ink":"k","f":"i"},
{"x":720,"y":775,"t":"q","fs":19,"ink":"k","f":"i"},
{"x":545,"y":810,"t":"b","fs":15,"ink":"b","f":"i"},
{"x":557,"y":802,"t":"(0)","fs":11,"ink":"b","f":"u"},
{"x":548,"y":820,"t":"q","fs":11,"ink":"b","f":"i"},
{"x":678,"y":807,"t":"K","fs":17,"ink":"b","f":"i"},
{"x":695,"y":797,"t":"(0)","fs":12,"ink":"b","f":"u"},
{"x":691,"y":815,"t":"md,q","fs":12,"ink":"b","f":"i"},
{"x":733,"y":807,"t":"\u03c3","fs":17,"ink":"b","f":"i"},
{"x":748,"y":797,"t":"(0)","fs":12,"ink":"b","f":"u"},
{"x":744,"y":815,"t":"q","fs":12,"ink":"b","f":"i"},
{"x":680,"y":857,"t":"PL","fs":23,"ink":"r","f":"i"},
{"x":712,"y":863,"t":"q","fs":16,"ink":"r","f":"i"},
{"x":914,"y":840,"t":"k","fs":21,"ink":"k","f":"i"},
{"x":932,"y":840,"t":"= 1, \u2026,","fs":19,"ink":"k","f":"u"},
{"x":1007,"y":840,"t":"N","fs":21,"ink":"k","f":"i"},
{"x":1031,"y":848,"t":"fault modes","fs":17,"ink":"k","f":"i"},

{"x":270,"y":935,"t":"PL","fs":25,"ink":"r","f":"i"},
{"x":303,"y":946,"t":"q","fs":17,"ink":"r","f":"i"},
{"x":326,"y":935,"t":"=","fs":25,"ink":"r","f":"u"},
{"x":356,"y":935,"t":"b","fs":25,"ink":"b","f":"i"},
{"x":374,"y":922,"t":"(0)","fs":17,"ink":"b","f":"u"},
{"x":370,"y":946,"t":"q","fs":17,"ink":"b","f":"i"},
{"x":412,"y":935,"t":"+","fs":25,"ink":"b","f":"u"},
{"x":437,"y":935,"t":"K","fs":25,"ink":"b","f":"i"},
{"x":460,"y":922,"t":"(0)","fs":17,"ink":"b","f":"u"},
{"x":455,"y":946,"t":"md,q","fs":17,"ink":"b","f":"i"},
{"x":510,"y":935,"t":"\u03c3","fs":25,"ink":"b","f":"i"},
{"x":534,"y":922,"t":"(0)","fs":17,"ink":"b","f":"u"},
{"x":529,"y":946,"t":"q","fs":17,"ink":"b","f":"i"},
{"x":563,"y":935,"t":"=","fs":25,"ink":"k","f":"u"},
{"x":588,"y":935,"t":"T","fs":25,"ink":"k","f":"i"},
{"x":604,"y":946,"t":"k,q","fs":17,"ink":"k","f":"i"},
{"x":639,"y":935,"t":"+","fs":25,"ink":"k","f":"u"},
{"x":663,"y":935,"t":"b","fs":25,"ink":"k","f":"i"},
{"x":684,"y":922,"t":"(k)","fs":17,"ink":"k","f":"i"},
{"x":680,"y":946,"t":"q","fs":17,"ink":"k","f":"i"},
{"x":722,"y":935,"t":"+","fs":25,"ink":"k","f":"u"},
{"x":748,"y":935,"t":"K","fs":25,"ink":"k","f":"i"},
{"x":771,"y":922,"t":"(k)","fs":17,"ink":"k","f":"i"},
{"x":765,"y":946,"t":"md,q","fs":17,"ink":"k","f":"i"},
{"x":822,"y":935,"t":"\u03c3","fs":25,"ink":"k","f":"i"},
{"x":841,"y":922,"t":"(k)","fs":17,"ink":"k","f":"i"},
{"x":836,"y":946,"t":"q","fs":17,"ink":"k","f":"i"},

{"x":521,"y":760,"t":"x\u0302","fs":27,"ink":"b","f":"bi"},
{"x":540,"y":745,"t":"(0)","fs":19,"ink":"b","f":"bi"},
{"x":540,"y":770,"t":"q","fs":19,"ink":"b","f":"bi"}
]
},
"encoding":{
"x":{"field":"x","type":"quantitative","scale":{"domain":[0,1157],"nice":false,"zero":false},"axis":null},
"y":{"field":"y","type":"quantitative","scale":{"domain":[0,956],"nice":false,"zero":false,"reverse":true},"axis":null}
},
"layer":[
{"data":{"name":"rc"},"mark":{"type":"rect"},
 "encoding":{"x2":{"field":"x2"},"y2":{"field":"y2"},
 "color":{"field":"ink","type":"nominal","scale":{"domain":["k","b","cb","r","rb","g","gr","lg","dk","ga","ra","da","ms","yl"],"range":["#000000","#0070C0","#2E7CC0","#FF0000","#FF4040","#008000","#808080","#C4C4C4","#404040","#BFBFBF","#F28C84","#6E6E6E","#C8C8C8","#FFFFD9"]},"legend":null}}},
{"data":{"name":"ar"},"mark":{"type":"area","orient":"vertical"},
 "encoding":{"y2":{"field":"yb"},"detail":{"field":"id"},
 "color":{"field":"ink","type":"nominal","scale":{"domain":["k","b","cb","r","rb","g","gr","lg","dk","ga","ra","da","ms","yl"],"range":["#000000","#0070C0","#2E7CC0","#FF0000","#FF4040","#008000","#808080","#C4C4C4","#404040","#BFBFBF","#F28C84","#6E6E6E","#C8C8C8","#FFFFD9"]},"legend":null}}},
{"data":{"name":"crv"},"mark":{"type":"line","interpolate":"catmull-rom"},
 "encoding":{"detail":{"field":"id"},"order":{"field":"o","type":"quantitative"},
 "strokeWidth":{"field":"sw","type":"quantitative","scale":{"type":"linear","domain":[0,10],"range":[0,10],"zero":true},"legend":null},
 "color":{"field":"ink","type":"nominal","scale":{"domain":["k","b","cb","r","rb","g","gr","lg","dk","ga","ra","da","ms","yl"],"range":["#000000","#0070C0","#2E7CC0","#FF0000","#FF4040","#008000","#808080","#C4C4C4","#404040","#BFBFBF","#F28C84","#6E6E6E","#C8C8C8","#FFFFD9"]},"legend":null}}},
{"data":{"name":"seg"},"mark":{"type":"line"},
 "encoding":{"detail":{"field":"id"},"order":{"field":"o","type":"quantitative"},
 "strokeWidth":{"field":"sw","type":"quantitative","scale":{"type":"linear","domain":[0,10],"range":[0,10],"zero":true},"legend":null},
 "strokeDash":{"field":"d","type":"nominal","scale":{"domain":["s","d2","d23","d3"],"range":[[1,0],[2,2],[2,3],[3,3]]},"legend":null},
 "color":{"field":"ink","type":"nominal","scale":{"domain":["k","b","cb","r","rb","g","gr","lg","dk","ga","ra","da","ms","yl"],"range":["#000000","#0070C0","#2E7CC0","#FF0000","#FF4040","#008000","#808080","#C4C4C4","#404040","#BFBFBF","#F28C84","#6E6E6E","#C8C8C8","#FFFFD9"]},"legend":null}}},
{"data":{"name":"pt"},"mark":{"type":"point","filled":true,"opacity":1},
 "encoding":{"shape":{"field":"shp","type":"nominal","scale":{"domain":["c","tr","tl"],"range":["circle","triangle-right","triangle-left"]},"legend":null},
 "size":{"field":"ps","type":"quantitative","scale":{"type":"linear","domain":[0,1000],"range":[0,1000],"zero":true},"legend":null},
 "color":{"field":"ink","type":"nominal","scale":{"domain":["k","b","cb","r","rb","g","gr","lg","dk","ga","ra","da","ms","yl"],"range":["#000000","#0070C0","#2E7CC0","#FF0000","#FF4040","#008000","#808080","#C4C4C4","#404040","#BFBFBF","#F28C84","#6E6E6E","#C8C8C8","#FFFFD9"]},"legend":null}}},
{"data":{"name":"txt"},"transform":[{"filter":{"field":"f","equal":"s"}}],
 "mark":{"type":"text","font":"DejaVu Sans","align":"left","baseline":"alphabetic"},
 "encoding":{"text":{"field":"t"},
 "size":{"field":"fs","type":"quantitative","scale":{"type":"linear","domain":[0,1000],"range":[0,1000],"zero":true},"legend":null},
 "color":{"field":"ink","type":"nominal","scale":{"domain":["k","b","cb","r","rb","g","gr","lg","dk","ga","ra","da","ms","yl"],"range":["#000000","#0070C0","#2E7CC0","#FF0000","#FF4040","#008000","#808080","#C4C4C4","#404040","#BFBFBF","#F28C84","#6E6E6E","#C8C8C8","#FFFFD9"]},"legend":null}}},
{"data":{"name":"txt"},"transform":[{"filter":{"field":"f","equal":"i"}}],
 "mark":{"type":"text","font":"DejaVu Serif","fontStyle":"italic","align":"left","baseline":"alphabetic"},
 "encoding":{"text":{"field":"t"},
 "size":{"field":"fs","type":"quantitative","scale":{"type":"linear","domain":[0,1000],"range":[0,1000],"zero":true},"legend":null},
 "color":{"field":"ink","type":"nominal","scale":{"domain":["k","b","cb","r","rb","g","gr","lg","dk","ga","ra","da","ms","yl"],"range":["#000000","#0070C0","#2E7CC0","#FF0000","#FF4040","#008000","#808080","#C4C4C4","#404040","#BFBFBF","#F28C84","#6E6E6E","#C8C8C8","#FFFFD9"]},"legend":null}}},
{"data":{"name":"txt"},"transform":[{"filter":{"field":"f","equal":"u"}}],
 "mark":{"type":"text","font":"DejaVu Serif","align":"left","baseline":"alphabetic"},
 "encoding":{"text":{"field":"t"},
 "size":{"field":"fs","type":"quantitative","scale":{"type":"linear","domain":[0,1000],"range":[0,1000],"zero":true},"legend":null},
 "color":{"field":"ink","type":"nominal","scale":{"domain":["k","b","cb","r","rb","g","gr","lg","dk","ga","ra","da","ms","yl"],"range":["#000000","#0070C0","#2E7CC0","#FF0000","#FF4040","#008000","#808080","#C4C4C4","#404040","#BFBFBF","#F28C84","#6E6E6E","#C8C8C8","#FFFFD9"]},"legend":null}}},
{"data":{"name":"txt"},"transform":[{"filter":{"field":"f","equal":"bi"}}],
 "mark":{"type":"text","font":"DejaVu Serif","fontStyle":"italic","fontWeight":"bold","align":"left","baseline":"alphabetic"},
 "encoding":{"text":{"field":"t"},
 "size":{"field":"fs","type":"quantitative","scale":{"type":"linear","domain":[0,1000],"range":[0,1000],"zero":true},"legend":null},
 "color":{"field":"ink","type":"nominal","scale":{"domain":["k","b","cb","r","rb","g","gr","lg","dk","ga","ra","da","ms","yl"],"range":["#000000","#0070C0","#2E7CC0","#FF0000","#FF4040","#008000","#808080","#C4C4C4","#404040","#BFBFBF","#F28C84","#6E6E6E","#C8C8C8","#FFFFD9"]},"legend":null}}}
]
}
